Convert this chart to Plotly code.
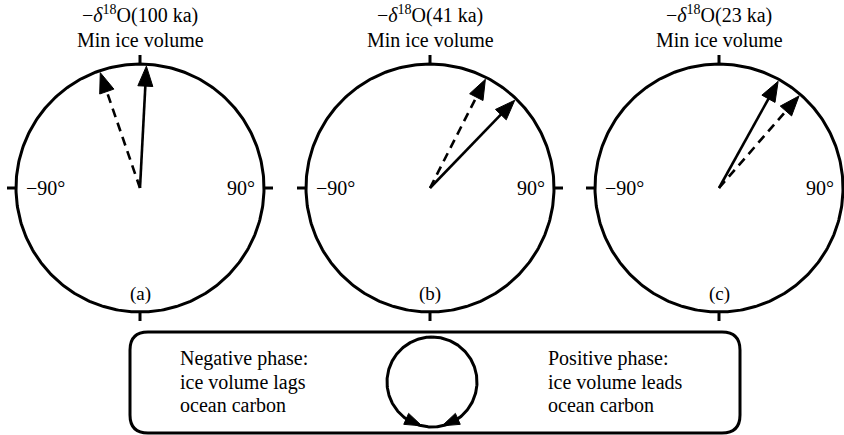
import numpy as np
import plotly.graph_objects as go

# ---------------- data ----------------
panel_labels = ["(a)", "(b)", "(c)"]
periods = ["100 ka", "41 ka", "23 ka"]
solid_phase_deg = [3, 44, 29]      # solid arrow phase (deg, clockwise from top)
dashed_phase_deg = [-19, 27, 41]   # dashed arrow phase
side_tick_labels = ["−90°", "90°"]
top_label_line2 = "Min ice volume"
neg_text = ["Negative phase:", "ice volume lags", "ocean carbon"]
pos_text = ["Positive phase:", "ice volume leads", "ocean carbon"]

# ---------------- layout constants (pixels) ----------------
W, H = 844, 435
centers_x = [140, 430, 719]
cy = 188
R = 124
FONT = "Liberation Serif"
LW = 3

fig = go.Figure()


def pt(cx, cyy, r, deg):
    t = np.deg2rad(deg)
    return cx + r * np.sin(t), cyy - r * np.cos(t)


def add_arrow(cx, cyy, deg, dash):
    tip_r = R - 2
    head_len = 20
    half_w = 7.5
    tx, ty = pt(cx, cyy, tip_r, deg)
    bx, by = pt(cx, cyy, tip_r - head_len + 2, deg)
    fig.add_trace(go.Scatter(x=[cx, bx], y=[cyy, by], mode="lines",
                             line=dict(color="black", width=2.6, dash=dash),
                             hoverinfo="skip", showlegend=False))
    hx, hy = pt(cx, cyy, tip_r - head_len, deg)
    t = np.deg2rad(deg)
    px, py = np.cos(t), np.sin(t)
    fig.add_trace(go.Scatter(x=[tx, hx + half_w * px, hx - half_w * px, tx],
                             y=[ty, hy + half_w * py, hy - half_w * py, ty],
                             mode="lines", fill="toself", fillcolor="black",
                             line=dict(color="black", width=1),
                             hoverinfo="skip", showlegend=False))


theta = np.linspace(0, 360, 361)
for i, cx in enumerate(centers_x):
    xs, ys = pt(cx, cy, R, theta)
    fig.add_trace(go.Scatter(x=xs, y=ys, mode="lines",
                             line=dict(color="black", width=LW),
                             hoverinfo="skip", showlegend=False))
    for d in [0, 90, 180, 270]:
        x0, y0 = pt(cx, cy, R, d)
        x1, y1 = pt(cx, cy, R + 9, d)
        fig.add_trace(go.Scatter(x=[x0, x1], y=[y0, y1], mode="lines",
                                 line=dict(color="black", width=LW),
                                 hoverinfo="skip", showlegend=False))
    add_arrow(cx, cy, dashed_phase_deg[i], "9px,6px")
    add_arrow(cx, cy, solid_phase_deg[i], "solid")

    fig.add_annotation(x=cx, y=14, xref="x", yref="y", showarrow=False,
                       text="−<i>δ</i><sup>18</sup>O(" + periods[i] + ")",
                       font=dict(family=FONT, size=20, color="black"),
                       xanchor="center", yanchor="middle")
    fig.add_annotation(x=cx, y=40, xref="x", yref="y", showarrow=False,
                       text=top_label_line2,
                       font=dict(family=FONT, size=20, color="black"),
                       xanchor="center", yanchor="middle")
    fig.add_annotation(x=cx - R + 8, y=cy, xref="x", yref="y", showarrow=False,
                       text=side_tick_labels[0],
                       font=dict(family=FONT, size=20, color="black"),
                       xanchor="left", yanchor="middle")
    fig.add_annotation(x=cx + R - 7, y=cy, xref="x", yref="y", showarrow=False,
                       text=side_tick_labels[1],
                       font=dict(family=FONT, size=20, color="black"),
                       xanchor="right", yanchor="middle")
    fig.add_annotation(x=cx, y=294, xref="x", yref="y", showarrow=False,
                       text=panel_labels[i],
                       font=dict(family=FONT, size=19, color="black"),
                       xanchor="center", yanchor="middle")

# ---------------- legend box ----------------
bx0, bx1, by0, by1, rr = 130, 740, 332, 433, 18
path = (f"M {bx0+rr},{by0} L {bx1-rr},{by0} Q {bx1},{by0} {bx1},{by0+rr} "
        f"L {bx1},{by1-rr} Q {bx1},{by1} {bx1-rr},{by1} L {bx0+rr},{by1} "
        f"Q {bx0},{by1} {bx0},{by1-rr} L {bx0},{by0+rr} Q {bx0},{by0} {bx0+rr},{by0} Z")
fig.add_shape(type="path", path=path, xref="x", yref="y",
              line=dict(color="black", width=LW))

scx, scy, sr = 432, 382, 45
xs, ys = pt(scx, scy, sr, theta)
fig.add_trace(go.Scatter(x=xs, y=ys, mode="lines",
                         line=dict(color="black", width=LW),
                         hoverinfo="skip", showlegend=False))
for tip_deg, base_deg in [(193, 215), (167, 145)]:
    tx, ty = pt(scx, scy, sr, tip_deg)
    bxm, bym = pt(scx, scy, sr, base_deg)
    dx, dy = tx - bxm, ty - bym
    n = np.hypot(dx, dy)
    px, py = -dy / n, dx / n
    hw = 6
    fig.add_trace(go.Scatter(x=[tx, bxm + hw * px, bxm - hw * px, tx],
                             y=[ty, bym + hw * py, bym - hw * py, ty],
                             mode="lines", fill="toself", fillcolor="black",
                             line=dict(color="black", width=1),
                             hoverinfo="skip", showlegend=False))

line_y = [358, 382, 405]
for j in range(3):
    fig.add_annotation(x=178, y=line_y[j], xref="x", yref="y", showarrow=False,
                       text=neg_text[j], font=dict(family=FONT, size=20, color="black"),
                       xanchor="left", yanchor="middle")
    fig.add_annotation(x=546, y=line_y[j], xref="x", yref="y", showarrow=False,
                       text=pos_text[j], font=dict(family=FONT, size=20, color="black"),
                       xanchor="left", yanchor="middle")

fig.update_layout(
    width=W, height=H,
    margin=dict(l=0, r=0, t=0, b=0),
    paper_bgcolor="white", plot_bgcolor="white",
    font=dict(family=FONT),
    xaxis=dict(range=[0, W], visible=False, fixedrange=True),
    yaxis=dict(range=[H, 0], visible=False, fixedrange=True),
    showlegend=False,
)

fig.write_html("out.html")
